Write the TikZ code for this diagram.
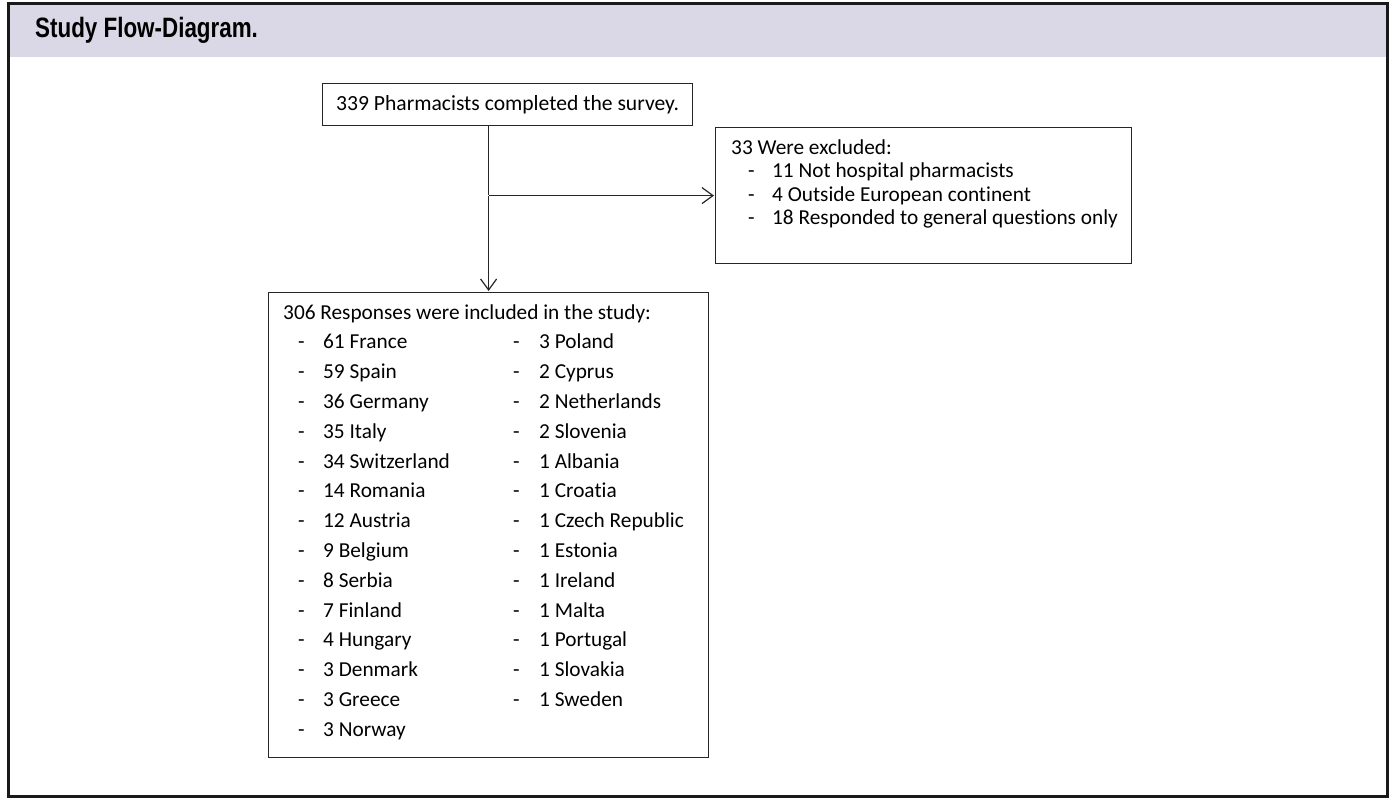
\documentclass[tikz,border=0pt]{standalone}
\usepackage{fontspec}
\setmainfont{Carlito}[Ligatures=NoCommon]
\newfontfamily\headfont{Liberation Sans}
\usetikzlibrary{positioning,arrows.meta}
\definecolor{headband}{HTML}{DAD8E6}

\begin{document}
\begin{tikzpicture}[x=1pt, y=-1pt, shorten >=1pt,
    >={Straight Barb[length=11pt,width=16pt]},
    box/.style={draw=black!85, line width=1.2pt, inner sep=0pt},
    boxtext/.style={anchor=north west, inner sep=0pt, align=left},
    flow/.style={draw=black!85, line width=1.2pt}]

    \useasboundingbox (0,0) rectangle (1393,799);

    % frame and heading
    \fill[headband] (8,4) rectangle (1387,57);
    \draw[line width=3pt, black!90] (8,4) rectangle (1387,796);
    \node[anchor=west, inner sep=0pt] (title) at (35,30)
        {\headfont\bfseries\fontsize{28}{32}\selectfont\scalebox{0.8}[1]{Study Flow-Diagram.}};

    % boxes
    \node[box, anchor=north west, minimum width=370, minimum height=42,
          font=\fontsize{21.6}{26}\selectfont] (survey) at (322,83)
        {339 Pharmacists completed the survey.};
    \node[box, anchor=north west, minimum width=416, minimum height=136] (excluded) at (715,127) {};
    \node[box, anchor=north west, minimum width=440, minimum height=465] (included) at (268,292) {};

    \node[boxtext, font=\fontsize{21.3}{23.3}\selectfont] (excludedlist) at (731,138) {%
        \begin{tabular}{@{\hspace{17pt}}p{24pt}@{}l@{}}
        \multicolumn{2}{@{}l@{}}{33 Were excluded:}\\
        - & 11 Not hospital pharmacists\\
        - & 4 Outside European continent\\
        - & 18 Responded to general questions only
        \end{tabular}};

    \node[boxtext, font=\fontsize{21.3}{29.8}\selectfont] (includedlist) at (283,298) {%
        \begin{tabular}{@{\hspace{15pt}}p{25pt}@{}p{190pt}@{}p{26pt}@{}l@{}}
        \multicolumn{4}{@{}l@{}}{306 Responses were included in the study:}\\
        - & 61 France      & - & 3 Poland\\
        - & 59 Spain       & - & 2 Cyprus\\
        - & 36 Germany     & - & 2 Netherlands\\
        - & 35 Italy       & - & 2 Slovenia\\
        - & 34 Switzerland & - & 1 Albania\\
        - & 14 Romania     & - & 1 Croatia\\
        - & 12 Austria     & - & 1 Czech Republic\\
        - & 9 Belgium      & - & 1 Estonia\\
        - & 8 Serbia       & - & 1 Ireland\\
        - & 7 Finland      & - & 1 Malta\\
        - & 4 Hungary      & - & 1 Portugal\\
        - & 3 Denmark      & - & 1 Slovakia\\
        - & 3 Greece       & - & 1 Sweden\\
        - & 3 Norway       &   &
        \end{tabular}};

    % connectors
    \coordinate (split) at (included.north |- excluded.west);
    \draw[flow] (included.north |- survey.south) -- (split);
    \draw[flow, ->] (split) -- (included.north);
    \draw[flow, ->] (split) -- (excluded.west);
\end{tikzpicture}
\end{document}
